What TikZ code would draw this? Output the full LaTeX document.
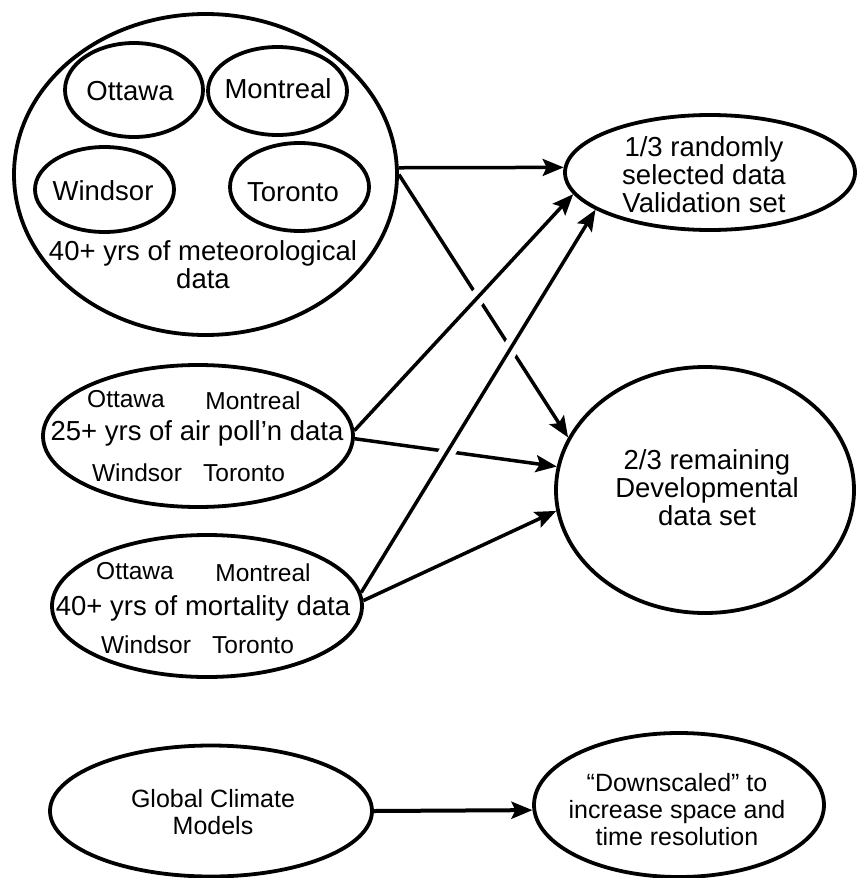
\documentclass[tikz,border=0pt]{standalone}
\usepackage{fontspec}
\setmainfont{Liberation Sans}
\usetikzlibrary{shapes.geometric,arrows.meta}
\begin{document}
\begin{tikzpicture}[x=1pt,y=-1pt,
  oval/.style={ellipse, draw, line width=3.8pt, fill=white, inner sep=0pt},
  lbl/.style={font=\fontsize{27.5}{28}\selectfont, align=center, inner sep=0pt},
  sml/.style={font=\fontsize{24.5}{26}\selectfont, inner sep=0pt},
  btm/.style={font=\fontsize{25}{27}\selectfont, align=center, inner sep=0pt},
  arr/.style={line width=3.5pt, -{Stealth[length=21pt,width=17pt,inset=4pt]}},
  over/.style={preaction={draw=white, line width=16pt, -, shorten <=30pt, shorten >=40pt}}
]
\useasboundingbox (0,0) rectangle (857,878);

% meteorological group
\node[oval, minimum width=383pt, minimum height=321pt] (met) at (205.5,174.5) {};
\node[oval, minimum width=138pt, minimum height=94pt] (ott) at (134,90) {};
\node[oval, minimum width=139pt, minimum height=88pt] (mon) at (277.5,91) {};
\node[oval, minimum width=139pt, minimum height=85pt] (win) at (104.5,189.5) {};
\node[oval, minimum width=139pt, minimum height=88pt] (tor) at (299.5,187) {};
\node[lbl] (ottT) at (130,91) {Ottawa};
\node[lbl] (monT) at (278,89) {Montreal};
\node[lbl] (winT) at (103,191) {Windsor};
\node[lbl] (torT) at (293,192) {Toronto};
\node[lbl] (metT) at (203,265) {40+ yrs of meteorological\\data};

% air pollution
\node[oval, minimum width=310pt, minimum height=142pt] (air) at (198,436) {};
\node[sml] (airO) at (126,399) {Ottawa};
\node[sml] (airM) at (253,401) {Montreal};
\node[lbl] (airT) at (197,433) {25+ yrs of air poll’n data};
\node[sml] (airW) at (137,473) {Windsor};
\node[sml] (airTo) at (244,473) {Toronto};

% mortality
\node[oval, minimum width=310pt, minimum height=142pt] (mort) at (207,606) {};
\node[sml] (mortO) at (135,571) {Ottawa};
\node[sml] (mortM) at (263,573) {Montreal};
\node[lbl] (mortT) at (203,608) {40+ yrs of mortality data};
\node[sml] (mortW) at (146,645) {Windsor};
\node[sml] (mortTo) at (253,645) {Toronto};

% validation / developmental
\node[oval, minimum width=290pt, minimum height=115pt] (val) at (710,172.5) {};
\node[lbl] (valT) at (704,175) {1/3 randomly\\selected data\\Validation set};
\node[oval, minimum width=298pt, minimum height=246pt] (dev) at (705,490) {};
\node[lbl] (devT) at (707,488) {2/3 remaining\\Developmental\\data set};

% climate models
\node[oval, minimum width=322pt, minimum height=131pt] (glob) at (211,811) {};
\node[btm] (globT) at (213,812) {Global Climate\\Models};
\node[oval, minimum width=290pt, minimum height=144pt] (down) at (679,805) {};
\node[btm] (downT) at (677,810) {“Downscaled” to\\increase space and\\time resolution};

% connectors
\draw[arr] (met.2) -- (val.178);
\draw[arr] (met.0) -- (dev.159);
\draw[arr] (air.-1) -- (dev.171);
\draw[arr] (mort.2) -- (dev.188);
\draw[arr, over] (air.2) -- (val.189);
\draw[arr, over] (mort.5) -- (val.198);
\draw[arr, line width=4pt] (glob.0) -- (down.182);
\end{tikzpicture}
\end{document}
